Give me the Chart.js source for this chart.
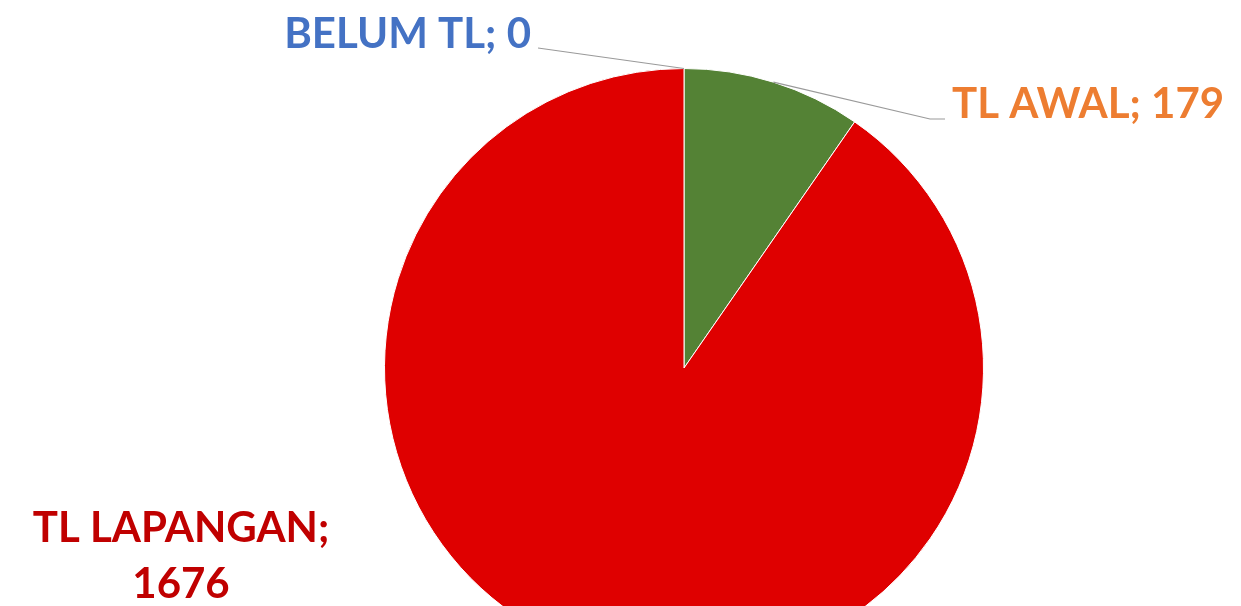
<!DOCTYPE html>
<html><head><meta charset="utf-8">
<script src="https://cdn.jsdelivr.net/npm/chart.js@4"></script>
<style>
html,body{margin:0;padding:0;background:#fff;overflow:hidden;}
#wrap{width:1241px;height:700px;}
</style></head>
<body><div id="wrap"><canvas id="c" width="1241" height="700"></canvas></div>
<script>
const categories = ['BELUM TL', 'TL AWAL', 'TL LAPANGAN'];
const values = [0, 179, 1676];
const sliceColors = ['#4472C4', '#548235', '#DF0000'];
const labelColors = ['#4472C4', '#ED7D31', '#C00000'];

const FONT = 'bold 42px Lato, "Open Sans", sans-serif';

const labelPlugin = {
  id: 'pieLabels',
  afterDraw(chart) {
    const ctx = chart.ctx;
    const meta = chart.getDatasetMeta(0);
    const arcs = meta.data;
    const cx = arcs[0].x, cy = arcs[0].y, r = arcs[0].outerRadius;
    function edge(i) {
      const a = (arcs[i].startAngle + arcs[i].endAngle) / 2;
      return [cx + r * Math.cos(a), cy + r * Math.sin(a)];
    }
    ctx.save();
    ctx.font = FONT;
    ctx.textBaseline = 'middle';
    ctx.strokeStyle = '#9a9a9a';
    ctx.lineWidth = 1.2;
    // BELUM TL
    let p = edge(0);
    ctx.beginPath(); ctx.moveTo(538, 48); ctx.lineTo(p[0], p[1]); ctx.stroke();
    ctx.fillStyle = labelColors[0];
    ctx.textAlign = 'right';
    ctx.fillText(categories[0] + '; ' + values[0], 531, 34);
    // TL AWAL
    p = edge(1);
    ctx.beginPath(); ctx.moveTo(p[0], p[1]); ctx.lineTo(930, 119); ctx.lineTo(945, 119); ctx.stroke();
    ctx.fillStyle = labelColors[1];
    ctx.textAlign = 'left';
    ctx.fillText(categories[1] + '; ' + values[1], 952, 104);
    // TL LAPANGAN
    ctx.fillStyle = labelColors[2];
    ctx.textAlign = 'center';
    ctx.fillText(categories[2] + ';', 181, 528);
    ctx.fillText(String(values[2]), 181, 584);
    ctx.restore();
  }
};

new Chart(document.getElementById('c'), {
  type: 'pie',
  data: {
    labels: categories,
    datasets: [{
      data: values,
      backgroundColor: sliceColors,
      borderColor: '#ffffff',
      borderWidth: 1
    }]
  },
  options: {
    responsive: false,
    animation: false,
    layout: { padding: { top: 68, bottom: 32, left: 127, right: 0 } },
    plugins: { legend: { display: false }, tooltip: { enabled: false } }
  },
  plugins: [labelPlugin]
});
</script>
</body></html>
